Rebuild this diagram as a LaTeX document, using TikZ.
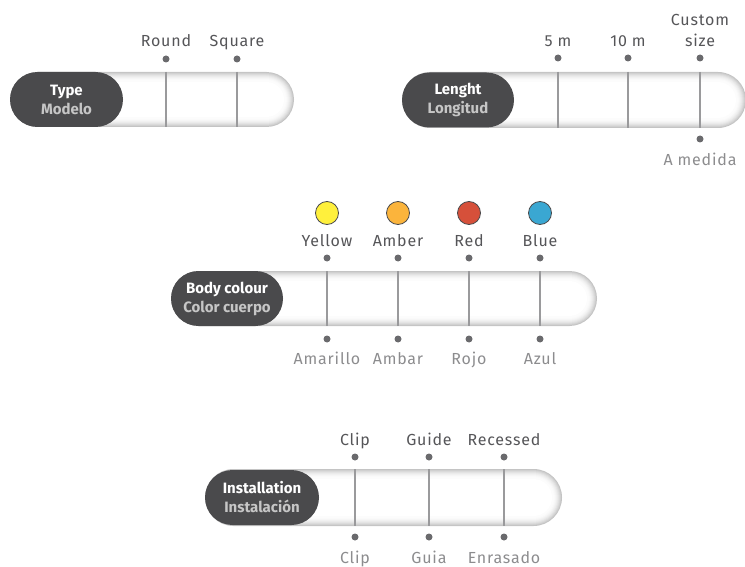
\documentclass[tikz,border=0pt]{standalone}
\usepackage{fontspec}
\setmainfont{Fira Sans}
\newfontfamily\labelfont[LetterSpace=5]{Fira Sans}
\usetikzlibrary{shapes.misc}

\definecolor{pillgrey}{HTML}{4A4A4C}
\definecolor{subgrey}{HTML}{C6C6C6}
\definecolor{topgrey}{HTML}{555558}
\definecolor{lowgrey}{HTML}{8C8C8E}
\definecolor{dotgrey}{HTML}{6A6A6D}
\definecolor{tickgrey}{HTML}{9A9A9C}
\definecolor{cyellow}{HTML}{FFF03C}
\definecolor{camber}{HTML}{FBB43C}
\definecolor{cred}{HTML}{D6503A}
\definecolor{cblue}{HTML}{3AA7D2}

% left, right, top, bottom
\newcommand{\optbar}[4]{%
  \foreach \i/\c in {0/46,1/37,2/29,3/22,4/16,5/11,6/7,7/4,8/2,10/0}{
    \pgfmathsetmacro{\rr}{(#4-#3)/2-\i}
    \fill[gray!\c, rounded corners=\rr pt] (#1+\i, #3+\i) rectangle (#2-\i, #4-\i);
  }}

\tikzset{
  labelpill/.style={rounded rectangle, fill=pillgrey, minimum height=55pt, inner sep=0pt,
    align=center, text=white, font=\fontsize{15}{19}\selectfont\bfseries},
  tick/.style={tickgrey, line width=1.6pt},
  dot/.style={circle, fill=dotgrey, inner sep=0pt, minimum size=7pt},
  toplabel/.style={anchor=base, text=topgrey, font=\labelfont\fontsize{16}{21}\selectfont},
  lowlabel/.style={anchor=base, text=lowgrey, font=\labelfont\fontsize{16}{21}\selectfont},
  swatch/.style={circle, draw=pillgrey, line width=0.8pt, minimum size=23pt, inner sep=0pt}
}

\begin{document}
\begin{tikzpicture}[x=1pt, y=-1pt]
            \useasboundingbox (0, 0) rectangle (745, 567);

            % Type
            \begin{scope}
                \optbar{10}{294}{72}{127}
                \draw[tick] (166, 72) -- (166, 127);
                \draw[tick] (237, 72) -- (237, 127);
                \node[labelpill, minimum width=113pt] (type) at (66.5, 99.5) {Type\\{\color{subgrey}Modelo}};

                \node[dot] (round) at (166, 59) {};
                \node[toplabel] at (166, 47) {Round};
                \node[dot] (square) at (237, 59) {};
                \node[toplabel] at (237, 47) {Square};
            \end{scope}

            % Lenght
            \begin{scope}
                \optbar{402}{746}{72}{128}
                \draw[tick] (558, 72) -- (558, 128);
                \draw[tick] (628, 72) -- (628, 128);
                \draw[tick] (700, 72) -- (700, 128);
                \node[labelpill, minimum width=112pt] (lenght) at (458, 100) {Lenght\\{\color{subgrey}Longitud}};

                \node[dot] (fivem) at (558, 58) {};
                \node[toplabel] at (558, 47) {5 m};
                \node[dot] (tenm) at (628, 58) {};
                \node[toplabel] at (628, 47) {10 m};
                \node[dot] (custom) at (700, 58) {};
                \node[toplabel, anchor=south, align=center, inner sep=0pt] at (700, 47) {Custom\\size};

                \node[dot] (medida) at (700, 139) {};
                \node[lowlabel] at (700, 165.5) {A medida};
            \end{scope}

            % Body colour
            \begin{scope}
                \optbar{171}{597}{271}{326}
                \draw[tick] (327, 271) -- (327, 326);
                \draw[tick] (398, 271) -- (398, 326);
                \draw[tick] (469, 271) -- (469, 326);
                \draw[tick] (540, 271) -- (540, 326);
                \node[labelpill, minimum width=112pt] (body) at (227, 298.5) {Body colour\\{\color{subgrey}Color cuerpo}};

                \node[swatch, fill=cyellow] (yellowsw) at (327, 213) {};
                \node[swatch, fill=camber] (ambersw) at (398, 213) {};
                \node[swatch, fill=cred] (redsw) at (469, 213) {};
                \node[swatch, fill=cblue] (bluesw) at (540, 213) {};

                \node[dot] (yellow) at (327, 258) {};
                \node[toplabel] at (327, 246.5) {Yellow};
                \node[dot] (amber) at (398, 258) {};
                \node[toplabel] at (398, 246.5) {Amber};
                \node[dot] (red) at (469, 258) {};
                \node[toplabel] at (469, 246.5) {Red};
                \node[dot] (blue) at (540, 258) {};
                \node[toplabel] at (540, 246.5) {Blue};

                \node[dot] (amarillo) at (327, 339) {};
                \node[lowlabel] at (327, 364) {Amarillo};
                \node[dot] (ambar) at (398, 339) {};
                \node[lowlabel] at (398, 364) {Ambar};
                \node[dot] (rojo) at (469, 339) {};
                \node[lowlabel] at (469, 364) {Rojo};
                \node[dot] (azul) at (540, 339) {};
                \node[lowlabel] at (540, 364) {Azul};
            \end{scope}

            % Installation
            \begin{scope}
                \optbar{205}{562}{469}{526}
                \draw[tick] (355, 469) -- (355, 526);
                \draw[tick] (429, 469) -- (429, 526);
                \draw[tick] (504, 469) -- (504, 526);
                \node[labelpill, minimum width=114pt] (install) at (262, 497.5) {Installation\\{\color{subgrey}Instalación}};

                \node[dot] (clip) at (355, 457) {};
                \node[toplabel] at (355, 445.5) {Clip};
                \node[dot] (guide) at (429, 457) {};
                \node[toplabel] at (429, 445.5) {Guide};
                \node[dot] (recessed) at (504, 457) {};
                \node[toplabel] at (504, 445.5) {Recessed};

                \node[dot] (clipes) at (355, 537) {};
                \node[lowlabel] at (355, 563.5) {Clip};
                \node[dot] (guia) at (429, 537) {};
                \node[lowlabel] at (429, 563.5) {Guia};
                \node[dot] (enrasado) at (504, 537) {};
                \node[lowlabel] at (504, 563.5) {Enrasado};
            \end{scope}
        \end{tikzpicture}
\end{document}
